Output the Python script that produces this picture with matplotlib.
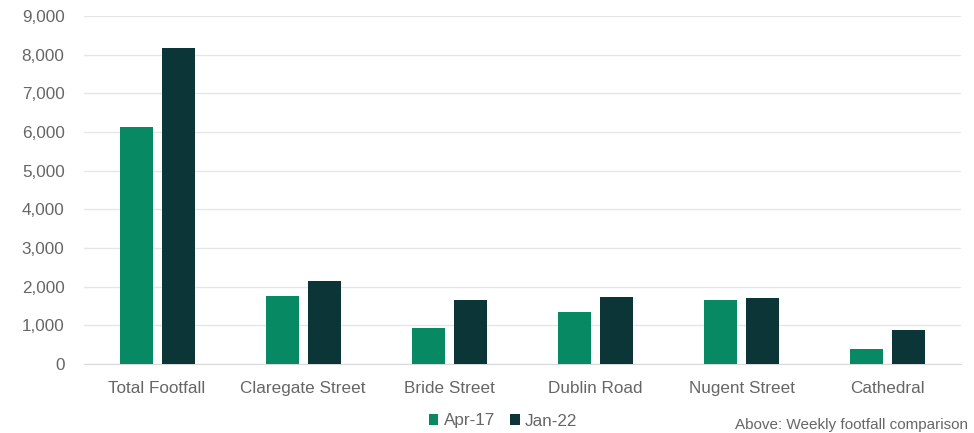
import numpy as np
import matplotlib
matplotlib.use('Agg')
from matplotlib import pyplot as plt

categories = ['Total Footfall', 'Claregate Street', 'Bride Street',
              'Dublin Road', 'Nugent Street', 'Cathedral']
apr17 = [6130, 1770, 940, 1340, 1655, 390]
jan22 = [8170, 2140, 1650, 1740, 1715, 885]
series_names = ['Apr-17', 'Jan-22']
colors = ['#078a64', '#0c3538']

plt.rcParams['font.family'] = ['Liberation Sans', 'DejaVu Sans']
fs = 12.3
txt_color = '#666666'

fig = plt.figure(figsize=(9.74, 4.33), dpi=100)
ax = fig.add_axes([84 / 974, (433 - 364) / 433, (961 - 84) / 974, (364 - 16) / 433])

x = np.arange(len(categories))
w = 0.226
ax.bar(x - 0.144, apr17, w, color=colors[0], label=series_names[0], zorder=3)
ax.bar(x + 0.144, jan22, w, color=colors[1], label=series_names[1], zorder=3)

ax.set_xlim(-0.5, len(categories) - 0.5)
ax.set_ylim(0, 9000)
ax.set_yticks(range(0, 9001, 1000))
ax.set_yticklabels([f'{v:,}' for v in range(0, 9001, 1000)])
ax.set_xticks(x)
ax.set_xticklabels(categories)
ax.grid(axis='y', color='#e6e6e6', linewidth=1, zorder=0)
for s in ['top', 'right', 'left']:
    ax.spines[s].set_visible(False)
ax.spines['bottom'].set_color('#d9d9d9')
ax.tick_params(axis='both', length=0, labelsize=fs, colors=txt_color)
ax.tick_params(axis='y', pad=14)
ax.tick_params(axis='x', pad=12)

leg = fig.legend(loc='center', bbox_to_anchor=(503 / 974, 1 - 421 / 433), ncol=2,
                 frameon=False, fontsize=fs, handlelength=0.55, handleheight=0.55,
                 handletextpad=0.3, columnspacing=0.9)
for t in leg.get_texts():
    t.set_color(txt_color)

fig.text(968 / 974, 1 / 433, 'Above: Weekly footfall comparison',
         fontsize=11, color=txt_color, va='bottom', ha='right')

fig.savefig('out.png', dpi=100)
